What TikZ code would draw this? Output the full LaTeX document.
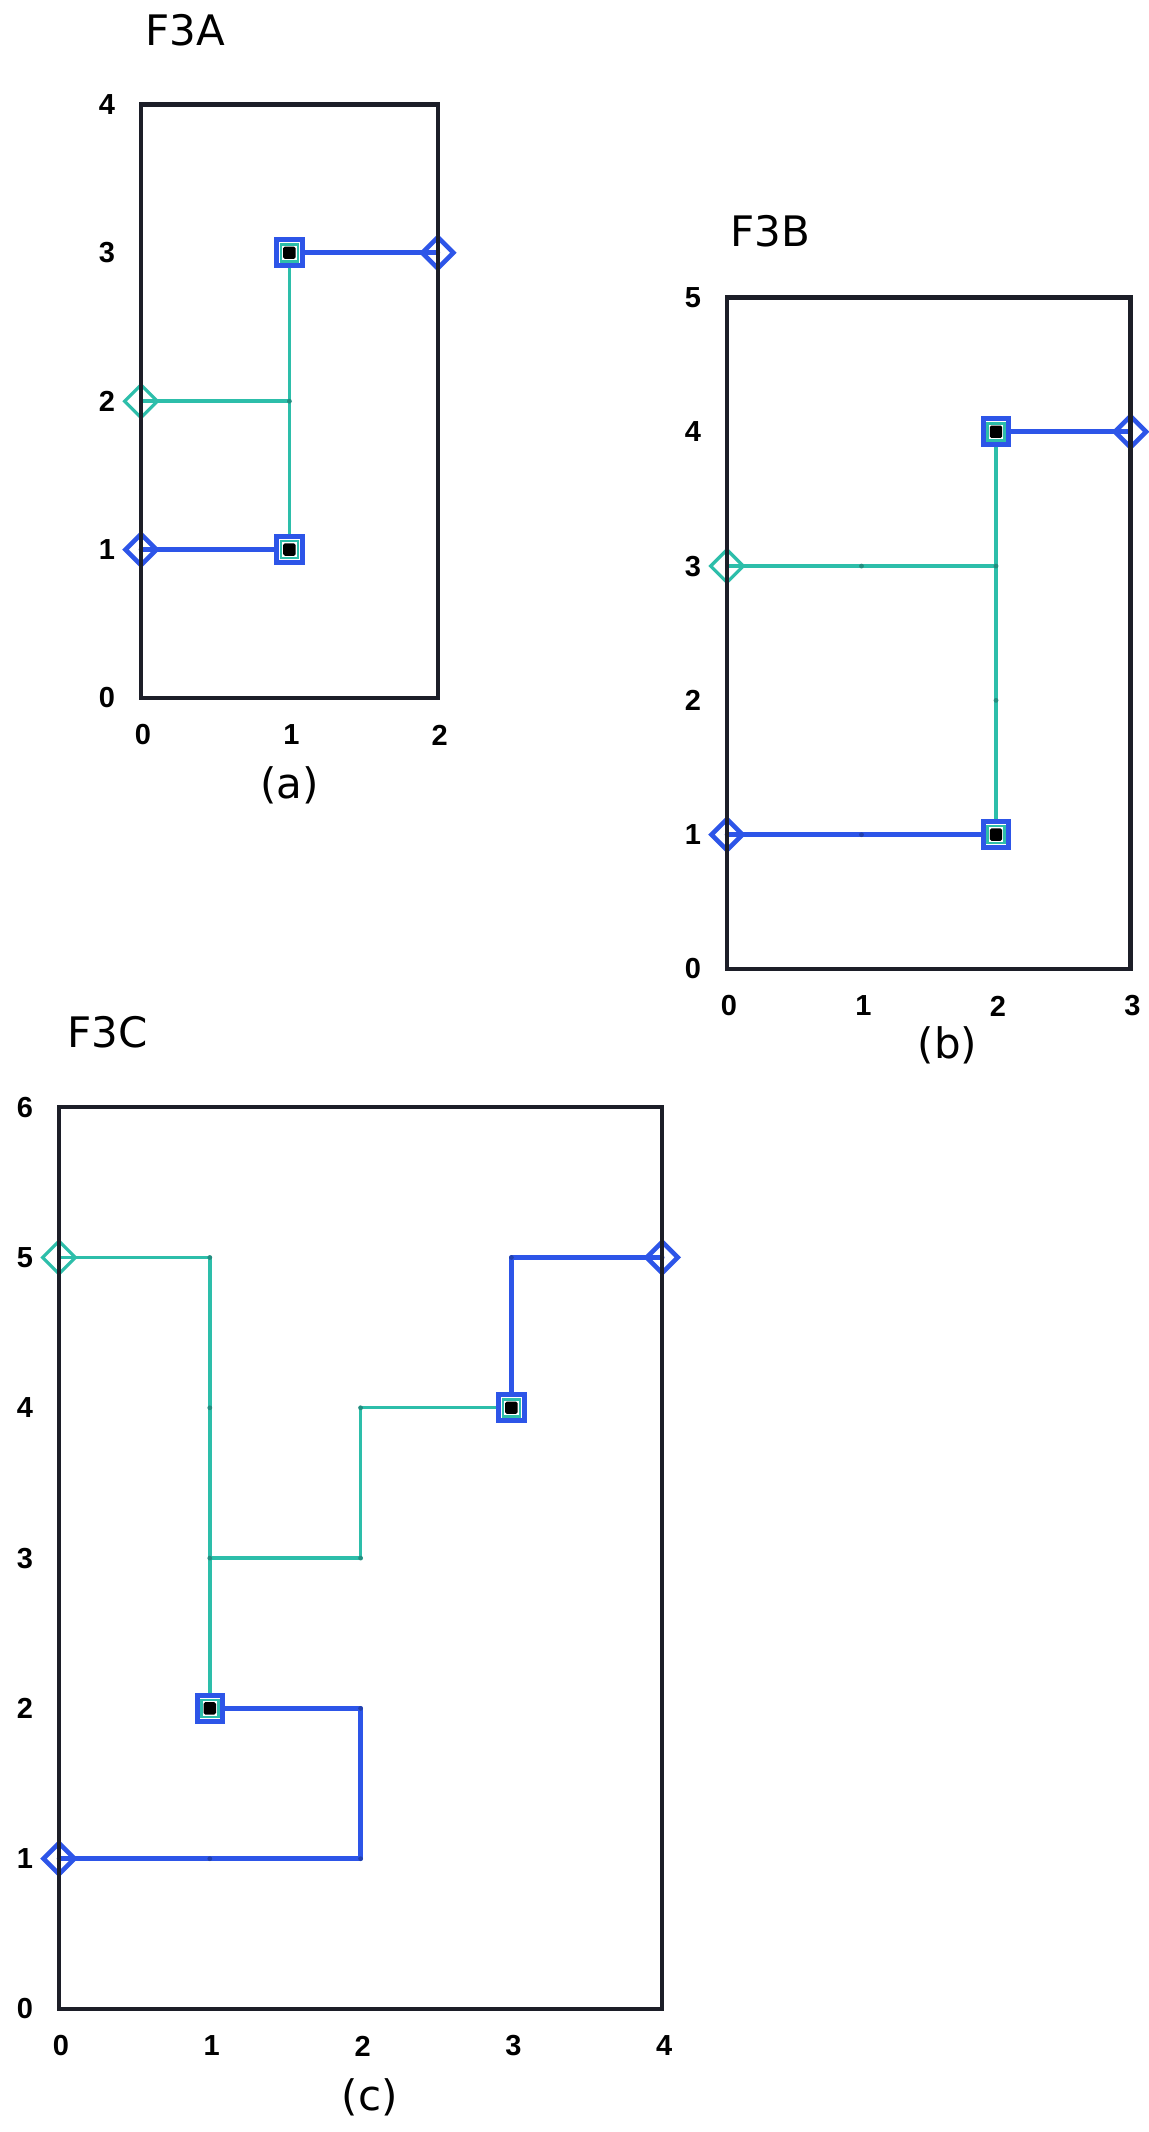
\documentclass[tikz,border=0pt]{standalone}
\usepackage{fontspec}
\setmainfont{DejaVu Sans}
\newfontfamily\tickfont{Liberation Sans}
\usetikzlibrary{shapes.geometric,backgrounds}
\definecolor{pblue}{RGB}{45,85,232}
\definecolor{pteal}{RGB}{45,190,170}
\definecolor{pframe}{RGB}{28,30,40}
\tikzset{
  frame/.style={draw=pframe, line width=2.2pt},
  bluepath/.style={draw=pblue, line width=2.3pt, line cap=round, line join=round},
  tealpath/.style={draw=pteal, line width=1.7pt, line cap=round, line join=round},
  bdia/.style={diamond, draw=pblue, line width=2.3pt, minimum width=16.5pt, minimum height=16.5pt, inner sep=0pt},
  tdia/.style={diamond, draw=pteal, line width=1.6pt, minimum width=17pt, minimum height=17pt, inner sep=0pt},
  sqb/.style={rectangle, draw=pblue, line width=2.5pt, fill=white, minimum size=12.8pt, inner sep=0pt},
  sqt/.style={rectangle, draw=pteal, line width=1.3pt, minimum size=8.5pt, inner sep=0pt},
  sqk/.style={rectangle, fill=black, minimum size=6.2pt, inner sep=0pt, rounded corners=0.8pt},
  bdot/.style={fill=pblue!75!black},
  tdot/.style={fill=pteal!75!black},
  ylab/.style={font=\tickfont\bfseries\fontsize{14.5}{14.5}\selectfont, inner sep=0pt, xshift=-17pt},
  xlab/.style={font=\tickfont\bfseries\fontsize{14.5}{14.5}\selectfont, inner sep=0pt, yshift=-18.5pt, xshift=1pt},
  ptitle/.style={font=\fontsize{21}{24}\selectfont, anchor=west, inner sep=0pt},
  pcaption/.style={font=\fontsize{21}{24}\selectfont, inner sep=0pt},
}
\begin{document}
\begin{tikzpicture}
\begin{pgfonlayer}{background}
\fill[white] (0,0) rectangle (574pt,1066pt);
\end{pgfonlayer}
\useasboundingbox (0,0) rectangle (574pt,1066pt);

%% ---------------- Panel A ----------------
\begin{scope}[shift={(70.5pt,717pt)}, x=74.2pt, y=74.2pt]
  \node[ptitle] (atitle) at (0,4) [xshift=2pt, yshift=37pt] {F3A};
  \foreach \k in {0,...,4} \node[ylab] (ay\k) at (0,\k) {\k};
  \foreach \k in {0,1,2} \node[xlab] (ax\k) at (\k,0) {\k};
  \node[pcaption] (acap) at (1,0) [yshift=-43.5pt] {(a)};
  % markers
  \node[bdia] (aD1) at (0,1) {};
  \node[bdia] (aD2) at (2,3) {};
  \node[tdia] (aT) at (0,2) {};
  \node[sqb] (aS1) at (1,1) {};
  \node[sqt] (aS1t) at (aS1) {};
  \node[sqk] (aS1k) at (aS1) {};
  \node[sqb] (aS2) at (1,3) {};
  \node[sqt] (aS2t) at (aS2) {};
  \node[sqk] (aS2k) at (aS2) {};
  \begin{pgfonlayer}{background}
    \draw[tealpath] (aS1.center) -- (aS2.center);
    \draw[tealpath] (aT.center) -- (aS1.center |- aT.center);
    \draw[bluepath] (aD1.center) -- (aS1.center);
    \draw[bluepath] (aS2.center) -- (aD2.center);
    \fill[tdot] (1,2) circle (1.2pt);
  \end{pgfonlayer}
  \draw[frame] (0,0) rectangle (2,4);
\end{scope}

%% ---------------- Panel B ----------------
\begin{scope}[shift={(363.5pt,581.5pt)}, x=67.25pt, y=67.15pt]
  \node[ptitle] (btitle) at (0,5) [xshift=1.5pt, yshift=33pt] {F3B};
  \foreach \k in {0,...,5} \node[ylab] (by\k) at (0,\k) {\k};
  \foreach \k in {0,...,3} \node[xlab] (bx\k) at (\k,0) {\k};
  \node[pcaption] (bcap) at (1.64,0) [yshift=-38pt] {(b)};
  \node[bdia] (bD1) at (0,1) {};
  \node[bdia] (bD2) at (3,4) {};
  \node[tdia] (bT) at (0,3) {};
  \node[sqb] (bS1) at (2,1) {};
  \node[sqt] (bS1t) at (bS1) {};
  \node[sqk] (bS1k) at (bS1) {};
  \node[sqb] (bS2) at (2,4) {};
  \node[sqt] (bS2t) at (bS2) {};
  \node[sqk] (bS2k) at (bS2) {};
  \begin{pgfonlayer}{background}
    \draw[tealpath] (bS1.center) -- (bS2.center);
    \draw[tealpath] (bT.center) -- (bS1.center |- bT.center);
    \draw[bluepath] (bD1.center) -- (bS1.center);
    \draw[bluepath] (bS2.center) -- (bD2.center);
    \foreach \p in {(1,3),(2,3),(2,2)} \fill[tdot] \p circle (1.2pt);
    \fill[bdot] (1,1) circle (1.2pt);
  \end{pgfonlayer}
  \draw[frame] (0,0) rectangle (3,5);
\end{scope}

%% ---------------- Panel C ----------------
\begin{scope}[shift={(29.5pt,61.5pt)}, x=75.4pt, y=75.15pt]
  \node[ptitle] (ctitle) at (0,6) [xshift=4pt, yshift=37.5pt] {F3C};
  \foreach \k in {0,...,6} \node[ylab] (cy\k) at (0,\k) {\k};
  \foreach \k in {0,...,4} \node[xlab] (cx\k) at (\k,0) {\k};
  \node[pcaption] (ccap) at (2.06,0) [yshift=-44pt] {(c)};
  \node[bdia] (cD1) at (0,1) {};
  \node[bdia] (cD2) at (4,5) {};
  \node[tdia] (cT) at (0,5) {};
  \node[sqb] (cS1) at (1,2) {};
  \node[sqt] (cS1t) at (cS1) {};
  \node[sqk] (cS1k) at (cS1) {};
  \node[sqb] (cS2) at (3,4) {};
  \node[sqt] (cS2t) at (cS2) {};
  \node[sqk] (cS2k) at (cS2) {};
  \coordinate (cJ) at (1,3);
  \begin{pgfonlayer}{background}
    \draw[tealpath] (cT.center) -| (cS1.center);
    \draw[tealpath] (cJ) -- ++(1,0) |- (cS2.center);
    \draw[bluepath] (cD1.center) -- ++(2,0) -- ++(0,1) -- (cS1.center);
    \draw[bluepath] (cS2.center) |- (cD2.center);
    \foreach \p in {(1,5),(1,4),(1,3),(2,3),(2,4)} \fill[tdot] \p circle (1.2pt);
    \foreach \p in {(1,1),(2,1),(2,2),(3,5)} \fill[bdot] \p circle (1.2pt);
  \end{pgfonlayer}
  \draw[frame] (0,0) rectangle (4,6);
\end{scope}
\end{tikzpicture}
\end{document}
